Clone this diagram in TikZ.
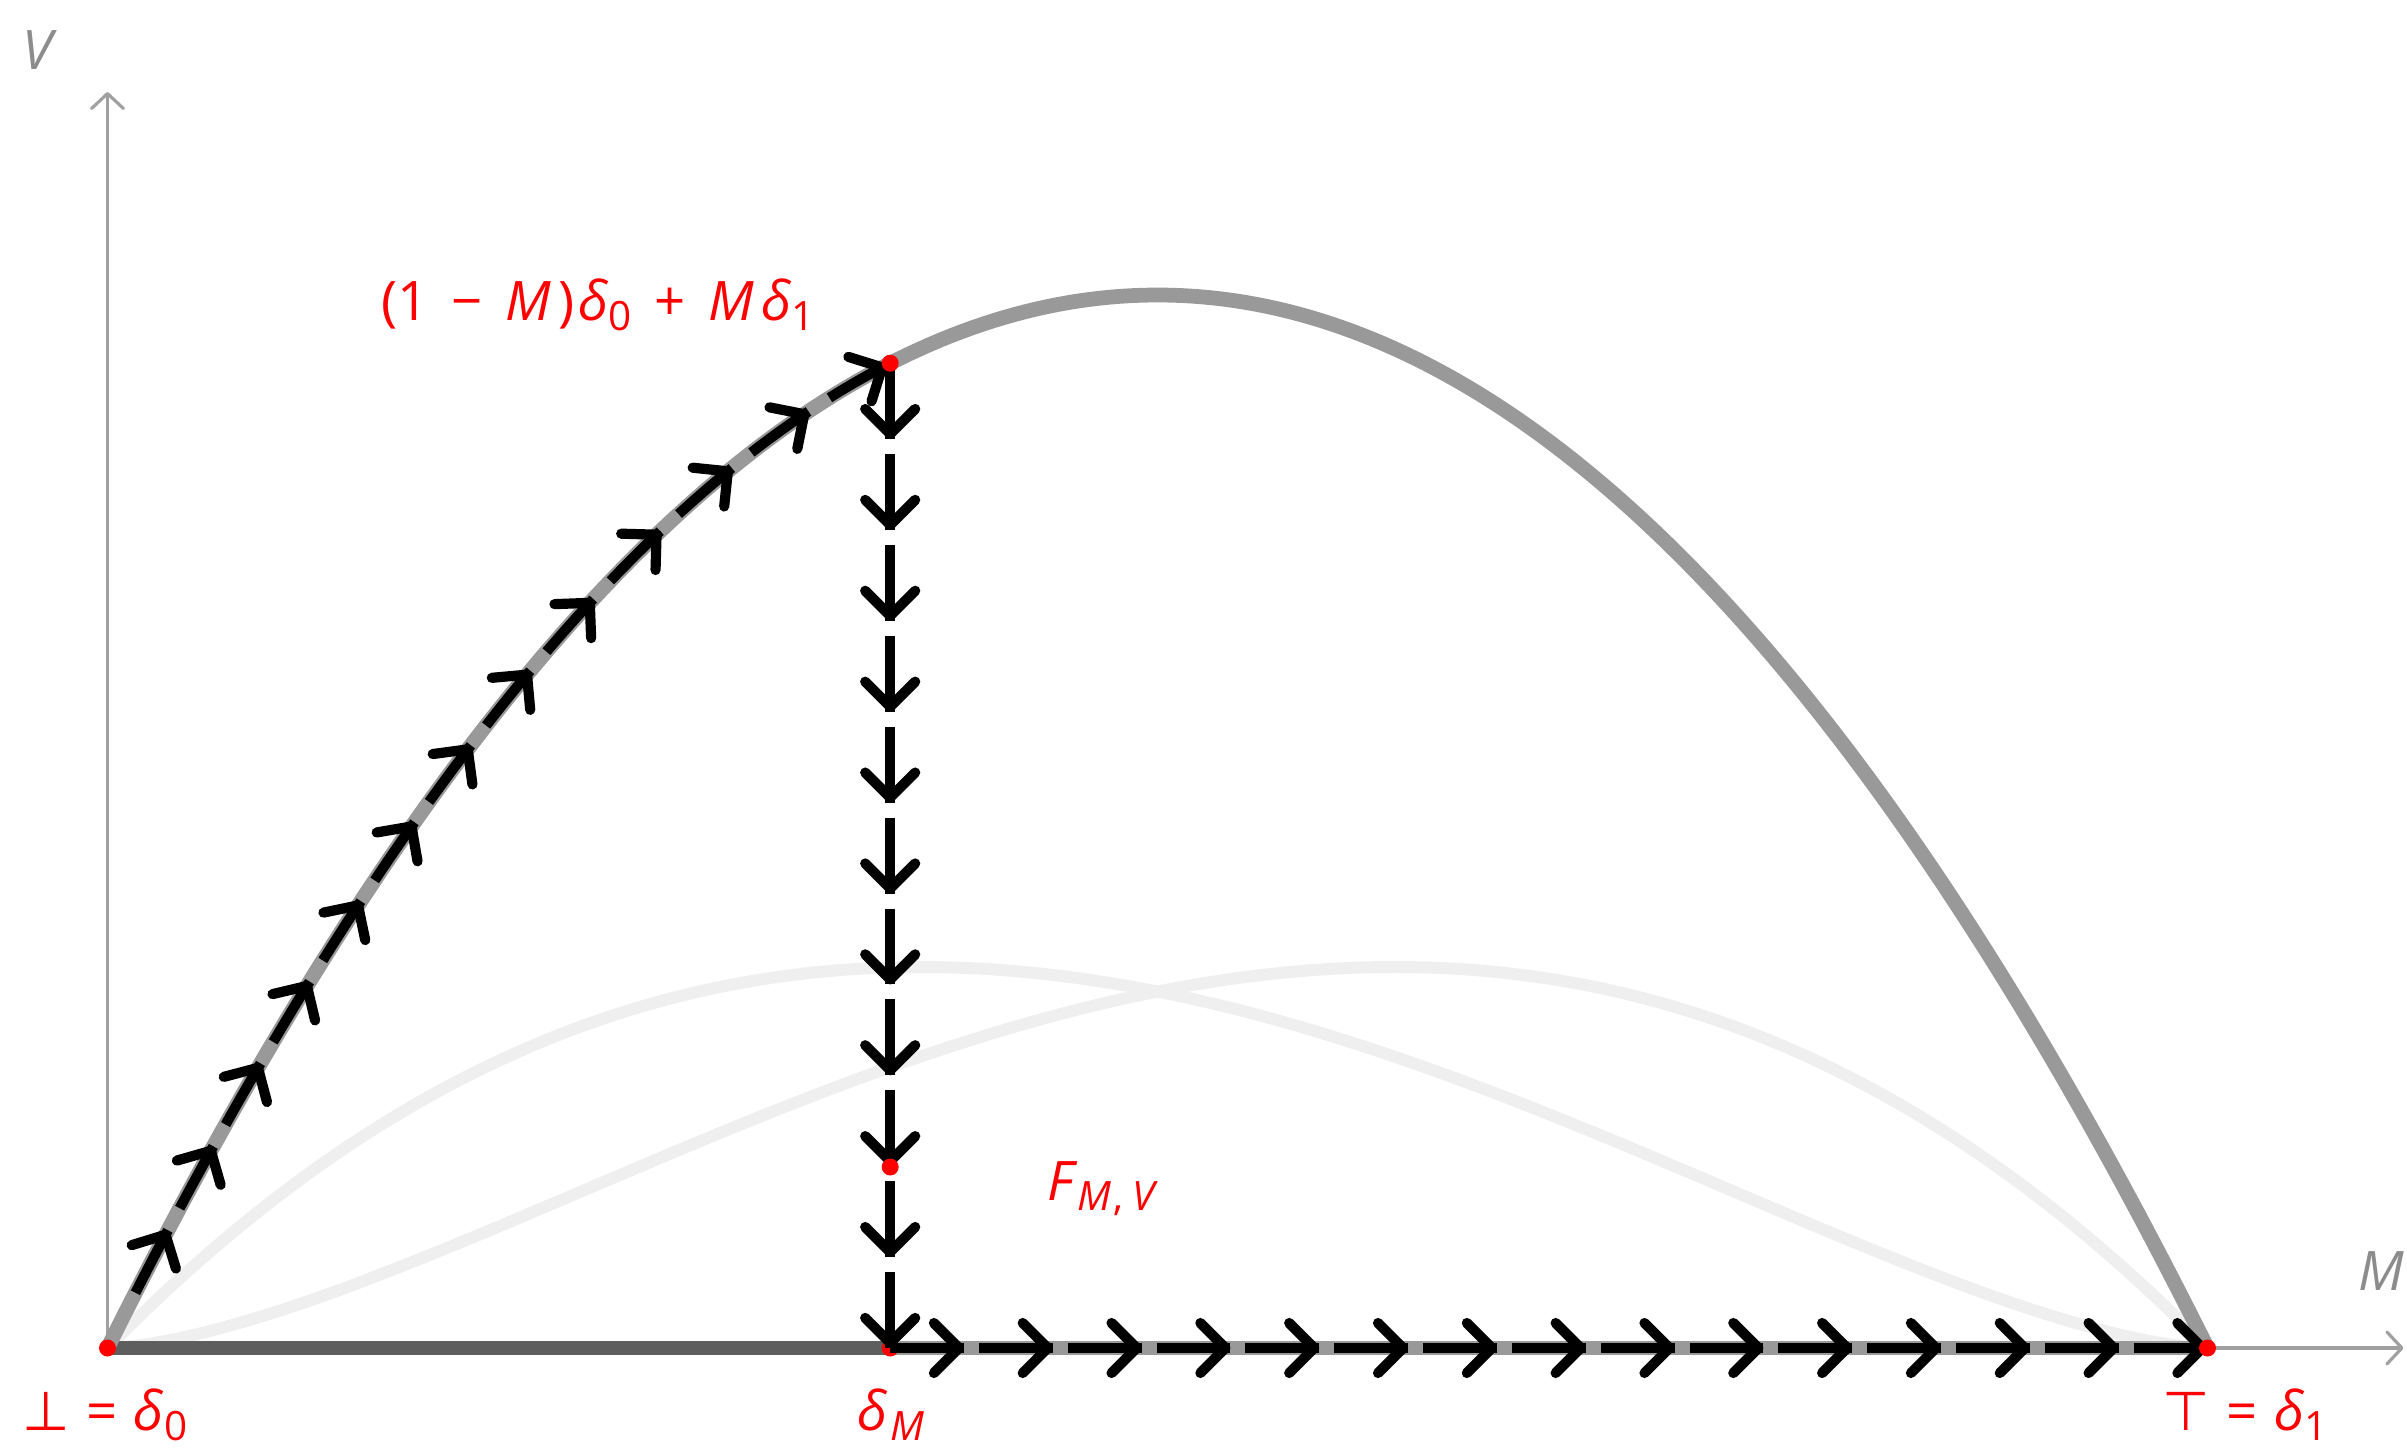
\documentclass[tikz,border=0pt]{standalone}
\usepackage{fontspec}
\setmainfont{Open Sans}
\newfontfamily\symf{DejaVu Sans}
\usetikzlibrary{arrows.meta,decorations.markings}
\definecolor{curvegray}{HTML}{999999}
\definecolor{lightc}{HTML}{EFEFEF}
\definecolor{axisgray}{HTML}{A0A0A0}
\definecolor{labgray}{HTML}{8C8C8C}
\definecolor{basedark}{HTML}{5E5E5E}
\newcommand\sbs[1]{\raisebox{-0.2em}{\fontsize{11.5}{11.5}\selectfont #1}}
\newcommand\bop[1]{\hspace{0.42em}#1\hspace{0.42em}}
\tikzset{
  chev/.tip={Straight Barb[length=2.5mm,width=5.0mm,round]},
  axtip/.tip={Straight Barb[length=1.5mm,width=3.2mm,round]},
  lbl/.style={inner sep=0pt, anchor=base west, font=\fontsize{15.5}{18}\selectfont, text=red},
  axlbl/.style={lbl, text=labgray},
  axisline/.style={draw=axisgray, line width=0.9pt, -{axtip}},
  family/.style={draw=lightc, line width=3.4pt},
  mainc/.style={draw=curvegray, line width=4.2pt},
  basethick/.style={line width=3.8pt},
  blackdash/.style={draw=black, line width=2.9pt, line cap=butt},
  reddot/.style={circle, fill=red, inner sep=0pt, minimum size=0.17cm},
}
\begin{document}
\begin{tikzpicture}
\useasboundingbox (-1.075,-1.0) rectangle (22.995,13.48);
% key points
\coordinate (O) at (0,0);
\coordinate (dM) at (7.827,0);
\coordinate (d1) at (21,0);
\coordinate (P) at (7.827,9.848);
\coordinate (Fd) at (7.827,1.81);
\coordinate (ytop) at (0,12.56);
\coordinate (xend) at (22.96,0);
% axes
\draw[axisline] (O) -- (ytop);
\draw[axisline] (O) -- (xend);
% light family curves
\draw[family] (O) -- plot[domain=0.001:0.999, samples=160] ({21*\x},{21.37*\x*(1-\x)*sqrt(1-\x)*exp(0.084*ln(1-\x))}) -- (d1);
\draw[family] (O) -- plot[domain=0.001:0.999, samples=160] ({21*\x},{21.37*\x*sqrt(\x)*exp(0.084*ln(\x))*(1-\x)}) -- (d1);
% thick baseline
\draw[basethick, draw=curvegray] (dM) -- (d1);
\draw[basethick, draw=basedark] (O) -- (dM);
% main parabola
\draw[mainc] plot[domain=0:1, samples=200] ({21*\x},{42.12*\x*(1-\x)});
% red dot under the arrows
\node[reddot] (ndM) at (dM) {};
% dashed arrow paths
\draw[blackdash, dash pattern=on 0.704cm off 0.25cm,
  postaction={decorate, decoration={markings,
    mark=between positions 0.704cm and 11.5cm step 0.954cm with {\arrow{chev}},
    mark=at position 1 with {\arrow{chev}}}}]
  plot[domain=0.0133:0.3727, samples=120] ({21*\x},{42.12*\x*(1-\x)});
\draw[blackdash, dash pattern=on 0.7589cm off 0.15cm,
  postaction={decorate, decoration={markings,
    mark=between positions 0.7589cm and 9.2cm step 0.9089cm with {\arrow{chev}},
    mark=at position 1 with {\arrow{chev}}}}]
  (P) -- (dM);
\draw[blackdash, dash pattern=on 0.7382cm off 0.15cm,
  postaction={decorate, decoration={markings,
    mark=between positions 0.7382cm and 12.5cm step 0.8882cm with {\arrow{chev}},
    mark=at position 1 with {\arrow{chev}}}}]
  (dM) -- (d1);
% red dots
\node[reddot] (nO) at (O) {};
\node[reddot] (nd1) at (d1) {};
\node[reddot] (nP) at (P) {};
\node[reddot] (nF) at (Fd) {};
% labels
\node[axlbl] (lV) at (-0.86,12.78) {\textit{V}};
\node[axlbl] (lM) at (22.50,0.58) {\textit{M}};
\node[lbl] (ltop) at (2.735,10.28) {(1\bop{−}\textit{M}\kern0.12em)\kern0.08em\textit{δ}\sbs{0}\bop{+}\textit{M}\kern0.12em\textit{δ}\sbs{1}};
\node[lbl] (lF) at (9.395,1.48) {\textit{F}\sbs{\textit{M}\kern0.05em,\kern0.22em\textit{V}}};
\node[lbl] (lbot) at (-0.855,-0.82) {{\symf ⊥}\hspace{0.3em}=\hspace{0.3em}\textit{δ}\sbs{0}};
\node[lbl] (ldM) at (7.495,-0.82) {\textit{δ}\sbs{\kern0.05em\textit{M}}};
\node[lbl] (ltopel) at (20.545,-0.82) {{\symf ⊤}\hspace{0.3em}=\hspace{0.3em}\textit{δ}\sbs{1}};
\end{tikzpicture}
\end{document}
